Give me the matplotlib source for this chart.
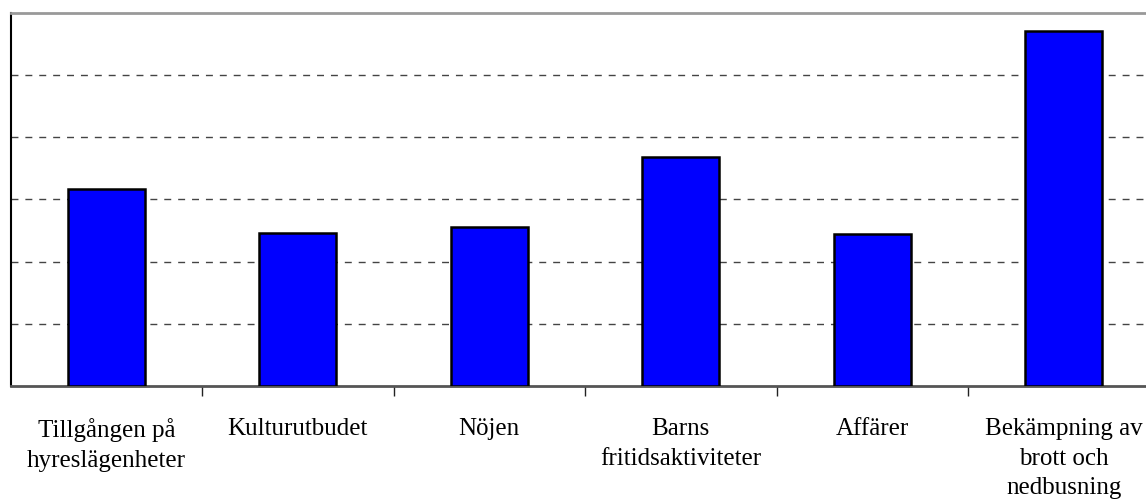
import matplotlib
matplotlib.use("Agg")
import matplotlib.pyplot as plt
import numpy as np
from matplotlib.ticker import FixedLocator

categories = ["Tillgången på\nhyreslägenheter", "Kulturutbudet", "Nöjen",
              "Barns\nfritidsaktiviteter", "Affärer", "Bekämpning av\nbrott och\nnedbusning"]
values = [3.17, 2.46, 2.56, 3.68, 2.44, 5.71]

W, H = 1146, 500
fig = plt.figure(figsize=(W/100, H/100), dpi=100)
left, right, top, bottom = 10.5, 1159.5, 12.5, 386
ax = fig.add_axes([left/W, 1-bottom/H, (right-left)/W, (bottom-top)/H])

x = np.arange(len(categories))
ax.bar(x, values, width=0.4, color="#0000FF", edgecolor="black", linewidth=1.8, zorder=3)

ax.set_xlim(-0.5, len(categories)-0.5)
ax.set_ylim(0, 6)
ax.set_yticks([1, 2, 3, 4, 5])
ax.yaxis.grid(True, linestyle=(0, (5, 5)), color="#444444", linewidth=1.0, zorder=0)
ax.tick_params(axis="y", length=0, labelleft=False)

ax.set_xticks(x)
ax.set_xticklabels(categories, family="Liberation Serif", fontsize=18, linespacing=1.45)
ax.tick_params(axis="x", which="major", length=0, pad=23)
ax.xaxis.set_minor_locator(FixedLocator(np.arange(0.5, len(categories)-0.5, 1.0)))
ax.tick_params(axis="x", which="minor", length=7, width=1, color="#222222", direction="out")

ax.spines["left"].set_color("black")
ax.spines["left"].set_linewidth(1.5)
ax.spines["top"].set_color("#999999")
ax.spines["top"].set_linewidth(2)
ax.spines["bottom"].set_color("#555555")
ax.spines["bottom"].set_linewidth(2)
ax.spines["right"].set_visible(False)

fig.savefig("out.png", dpi=100)
